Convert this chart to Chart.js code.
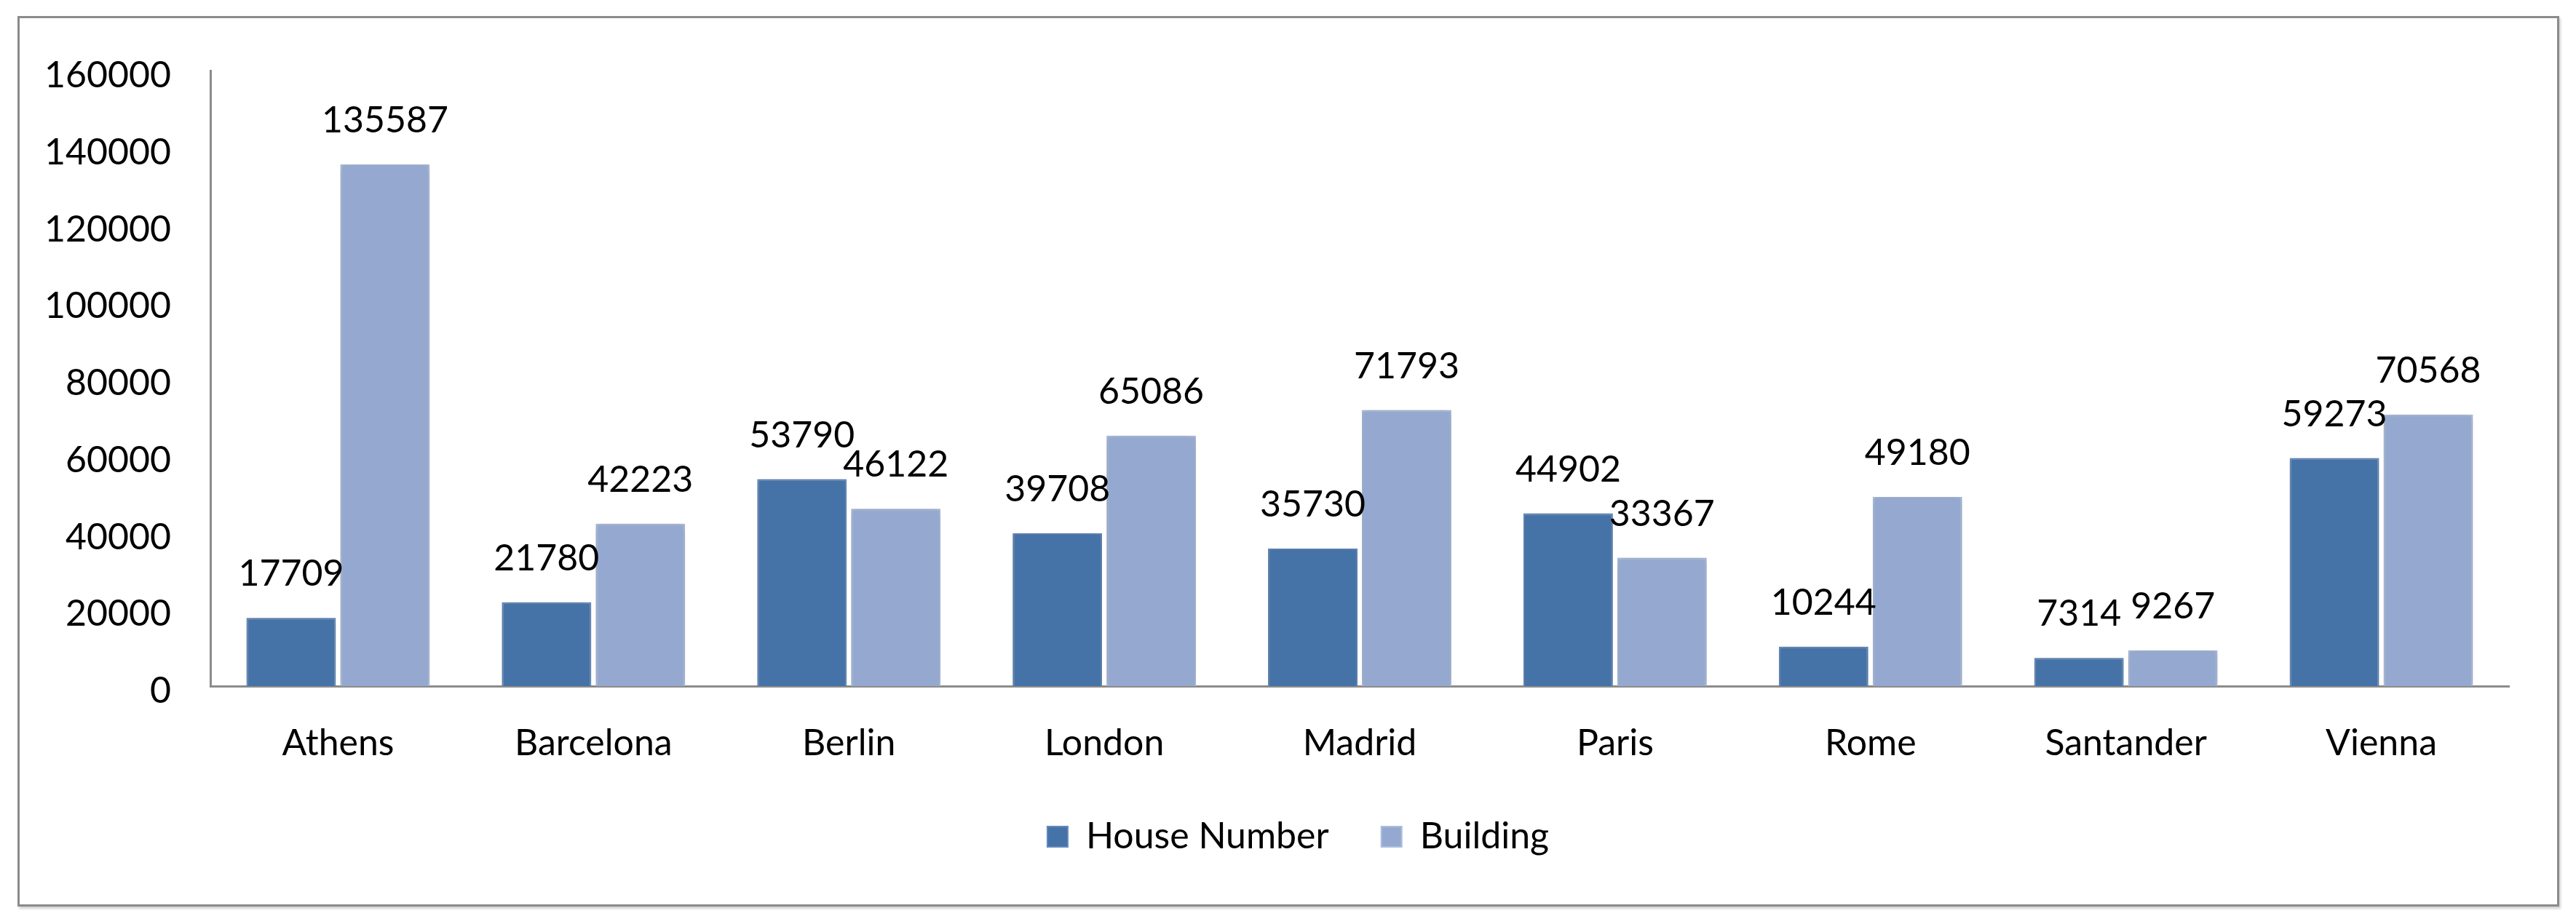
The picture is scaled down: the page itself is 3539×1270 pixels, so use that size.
<!DOCTYPE html>
<html>
<head>
<meta charset="utf-8">
<script src="https://cdn.jsdelivr.net/npm/chart.js@4.4.0/dist/chart.umd.min.js"></script>
<style>
    html, body { margin: 0; padding: 0; background: #fff; }
    #wrap { position: relative; width: 3539px; height: 1270px; }
    #frame {
        position: absolute; left: 24px; top: 22px; width: 3492px; height: 1224px;
        box-sizing: border-box; border: 3px solid #8b8b8b;
        box-shadow: 2px 3px 3px rgba(0, 0, 0, 0.18);
    }
    #chart { position: absolute; left: 0; top: 0; }
</style>
</head>
<body>
<div id="wrap">
    <div id="frame"></div>
    <canvas id="chart" width="3539" height="1270"></canvas>
</div>
<script>
const cities = ['Athens', 'Barcelona', 'Berlin', 'London', 'Madrid', 'Paris', 'Rome', 'Santander', 'Vienna'];
const houseNumber = [17709, 21780, 53790, 39708, 35730, 44902, 10244, 7314, 59273];
const building = [135587, 42223, 46122, 65086, 71793, 33367, 49180, 9267, 70568];
const yTicks = [0, 20000, 40000, 60000, 80000, 100000, 120000, 140000, 160000];

const FONT = { family: 'Lato, "Liberation Sans", sans-serif', size: 50 };

// soft shadow around the bars, like the office chart
const barShadow = {
    id: 'barShadow',
    beforeDatasetsDraw(chart) {
        const ctx = chart.ctx;
        ctx.save();
        ctx.shadowColor = 'rgba(0, 0, 0, 0.22)';
        ctx.shadowBlur = 12;
        ctx.shadowOffsetX = 0;
        ctx.shadowOffsetY = 0;
    },
    afterDatasetsDraw(chart) {
        chart.ctx.restore();
    }
};

// legend sits a bit right of the canvas centre in the original
const legendShift = {
    id: 'legendShift',
    afterLayout(chart) {
        chart.legend.left += 40;
        chart.legend.right += 40;
    }
};

// value labels above each bar
const valueLabels = {
    id: 'valueLabels',
    afterDraw(chart) {
        const ctx = chart.ctx;
        ctx.save();
        ctx.font = FONT.size + 'px ' + FONT.family;
        ctx.fillStyle = '#000';
        ctx.textAlign = 'center';
        ctx.textBaseline = 'middle';
        chart.data.datasets.forEach((ds, i) => {
            const meta = chart.getDatasetMeta(i);
            meta.data.forEach((bar, j) => {
                ctx.fillText(String(ds.data[j]), bar.x, bar.y - 60);
            });
        });
        ctx.restore();
    }
};

const chart = new Chart(document.getElementById('chart'), {
    type: 'bar',
    data: {
        labels: cities,
        datasets: [{
            label: 'House Number',
            data: houseNumber,
            backgroundColor: '#4573a7',
            borderColor: '#6489bb',
            borderWidth: 2,
            categoryPercentage: 0.735,
            barPercentage: 0.953
        }, {
            label: 'Building',
            data: building,
            backgroundColor: '#95a9d0',
            borderColor: '#adbedd',
            borderWidth: 2,
            categoryPercentage: 0.735,
            barPercentage: 0.953
        }]
    },
    options: {
        responsive: false,
        devicePixelRatio: 1,
        animation: false,
        layout: {
            padding: { left: 40, right: 92, top: 97, bottom: 85 }
        },
        scales: {
            x: {
                grid: { display: false, drawTicks: false },
                border: { display: true, color: '#8c8c8c', width: 3 },
                ticks: { color: '#000', font: FONT, padding: 49, maxRotation: 0, autoSkip: false },
                afterFit(scale) { scale.height = 110; }
            },
            y: {
                min: yTicks[0],
                max: yTicks[yTicks.length - 1],
                grid: { display: false, drawTicks: false },
                border: { display: true, color: '#8c8c8c', width: 3 },
                ticks: {
                    color: '#000', font: FONT, padding: 54, labelOffset: 7,
                    callback: v => String(v)
                },
                afterBuildTicks(scale) {
                    scale.ticks = yTicks.map(v => ({ value: v }));
                },
                afterFit(scale) { scale.width = 249; }
            }
        },
        plugins: {
            legend: {
                position: 'bottom',
                labels: {
                    color: '#000',
                    font: FONT,
                    boxWidth: 28,
                    boxHeight: 28,
                    padding: 72
                }
            },
            tooltip: { enabled: false }
        }
    },
    plugins: [barShadow, legendShift, valueLabels]
});
</script>
</body>
</html>
